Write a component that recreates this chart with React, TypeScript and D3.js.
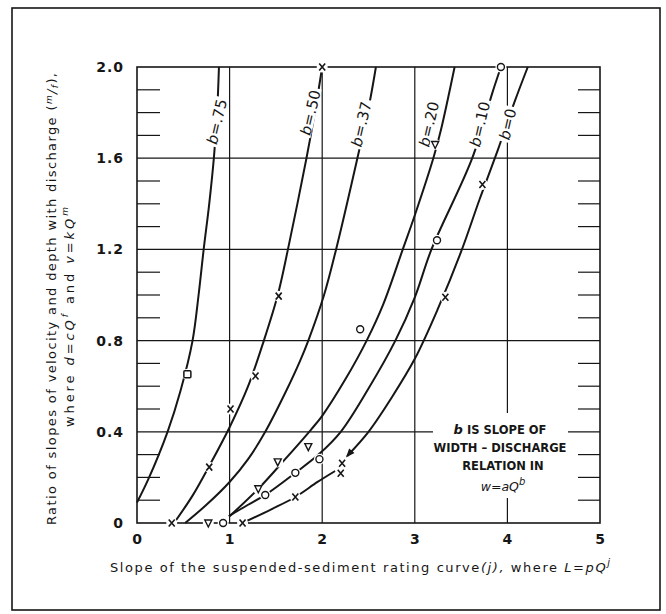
import React, { useEffect, useRef } from 'react';
import * as d3 from 'd3';

// axis ticks
const X_TICKS = [0, 1, 2, 3, 4, 5];
const Y_TICKS = [0, 0.4, 0.8, 1.2, 1.6, 2.0];
const Y_TICK_LABELS = ['0', '0.4', '0.8', '1.2', '1.6', '2.0'];

// curves: [j, m/f]
const curveB75 = [[0, 0.09], [0.12, 0.19], [0.33, 0.4], [0.47, 0.58], [0.6, 0.8], [0.665, 1.0], [0.72, 1.2], [0.78, 1.4], [0.83, 1.6], [0.865, 1.8], [0.885, 2.0]];
const curveB50 = [[0.4, 0], [0.6, 0.12], [0.78, 0.25], [1.0, 0.42], [1.2, 0.6], [1.37, 0.8], [1.52, 1.0], [1.63, 1.2], [1.83, 1.6], [1.92, 1.8], [2.0, 2.0]];
const curveB37 = [[0.52, 0], [0.75, 0.08], [1.0, 0.18], [1.2, 0.28], [1.385, 0.4], [1.6, 0.57], [1.76, 0.71], [1.85, 0.8], [2.02, 1.0], [2.15, 1.2], [2.38, 1.6], [2.51, 1.84], [2.58, 2.0]];
const curveB20 = [[1.0, 0.03], [1.31, 0.15], [1.6, 0.28], [1.88, 0.41], [2.0, 0.47], [2.25, 0.63], [2.48, 0.8], [2.66, 0.96], [2.87, 1.2], [3.0, 1.35], [3.2, 1.6], [3.28, 1.72], [3.43, 2.0]];
const curveB10 = [[0.99, 0.03], [1.2, 0.08], [1.385, 0.123], [1.71, 0.22], [1.96, 0.3], [2.2, 0.4], [2.5, 0.59], [2.79, 0.8], [3.0, 0.99], [3.18, 1.2], [3.62, 1.6], [3.84, 1.89], [3.93, 2.0]];
const curveB0Low = [[1.14, 0], [1.45, 0.06], [1.71, 0.114], [1.95, 0.18], [2.14, 0.228]];
const curveB0High = [[2.27, 0.294], [2.5, 0.4], [2.75, 0.55], [3.0, 0.72], [3.25, 0.94], [3.5, 1.19], [3.7, 1.42], [3.9, 1.64], [4.08, 1.85], [4.22, 2.0]];

const curveLabels = ['.75', '.50', '.37', '.20', '.10', '0'];
const curveLabelAt = [[0.86, 1.76], [1.87, 1.80], [2.42, 1.75], [3.15, 1.75], [3.70, 1.75], [4.0, 1.75]];

// observed points
const crossPts = [[0.375, 0], [0.78, 0.245], [1.01, 0.5], [1.28, 0.645], [1.53, 0.995], [2.0, 2.0], [1.14, 0], [1.71, 0.114], [2.215, 0.262], [2.2, 0.218], [3.33, 0.99], [3.73, 1.485]];
const circlePts = [[0.93, 0], [1.385, 0.123], [1.71, 0.22], [1.97, 0.28], [2.41, 0.85], [3.24, 1.24], [3.93, 2.0]];
const trianglePts = [[0.77, 0], [1.31, 0.15], [1.52, 0.268], [1.85, 0.335], [3.22, 1.66]];
const squarePts = [[0.544, 0.652]];

const INK = '#161616';
const FONT = '"DejaVu Sans", sans-serif';

function SedimentChart() {
    const svgRef = useRef(null);

    useEffect(() => {
        const svg = d3.select(svgRef.current);
        svg.selectAll('*').remove();

        const x = d3.scaleLinear().domain([0, 5]).range([137, 600]);
        const y = d3.scaleLinear().domain([0, 2]).range([523, 67]);

        // page frame
        svg.append('rect')
            .attr('x', 12).attr('y', 8).attr('width', 648).attr('height', 602)
            .attr('fill', 'none').attr('stroke', INK).attr('stroke-width', 1.6);

        // grid
        const grid = svg.append('g').attr('stroke', INK).attr('stroke-width', 1.2);
        X_TICKS.slice(1, -1).forEach((v) => {
            grid.append('line')
                .attr('x1', x(v)).attr('x2', x(v)).attr('y1', y(0)).attr('y2', y(2));
        });
        Y_TICKS.slice(1, -1).forEach((v) => {
            grid.append('line')
                .attr('x1', x(0)).attr('x2', x(5)).attr('y1', y(v)).attr('y2', y(v));
        });

        // minor ticks on both sides
        const minor = d3.range(1, 20).filter((i) => i % 4 !== 0).map((i) => i / 10);
        minor.forEach((v) => {
            grid.append('line')
                .attr('x1', x(0)).attr('x2', x(0) + 23).attr('y1', y(v)).attr('y2', y(v));
            grid.append('line')
                .attr('x1', x(5) - 22).attr('x2', x(5)).attr('y1', y(v)).attr('y2', y(v));
        });

        // plot border
        svg.append('rect')
            .attr('x', x(0)).attr('y', y(2))
            .attr('width', x(5) - x(0)).attr('height', y(0) - y(2))
            .attr('fill', 'none').attr('stroke', INK).attr('stroke-width', 1.6);

        // legend box (white knockout)
        svg.append('rect')
            .attr('x', 433).attr('y', 413).attr('width', 135).attr('height', 85)
            .attr('fill', 'white');
        const legend = svg.append('text')
            .attr('font-family', FONT).attr('font-weight', 'bold')
            .attr('font-size', 11.5).attr('fill', INK).attr('text-anchor', 'middle');
        const l1 = legend.append('tspan').attr('x', 500).attr('y', 434);
        l1.append('tspan').attr('font-style', 'italic').attr('font-size', 13).text('b');
        l1.append('tspan').text(' IS SLOPE OF');
        legend.append('tspan').attr('x', 500).attr('y', 452).text('WIDTH – DISCHARGE');
        legend.append('tspan').attr('x', 503).attr('y', 470).text('RELATION  IN');
        const l4 = legend.append('tspan').attr('x', 503).attr('y', 491)
            .attr('font-style', 'italic').attr('font-weight', 'normal').attr('font-size', 12.5);
        l4.append('tspan').text('w=aQ');
        l4.append('tspan').attr('dy', -6).attr('font-size', 10).text('b');

        // curves
        const line = d3.line()
            .x((d) => x(d[0]))
            .y((d) => y(d[1]))
            .curve(d3.curveCatmullRom.alpha(0.5));

        const curves = [curveB75, curveB50, curveB37, curveB20, curveB10, curveB0Low, curveB0High];
        svg.append('g')
            .selectAll('path')
            .data(curves)
            .join('path')
            .attr('d', line)
            .attr('fill', 'none')
            .attr('stroke', INK)
            .attr('stroke-width', 2);

        // arrow head at the lower end of the upper b=0 branch
        const p0 = [x(curveB0High[0][0]), y(curveB0High[0][1])];
        const p1 = [x(curveB0High[1][0]), y(curveB0High[1][1])];
        const len = Math.hypot(p0[0] - p1[0], p0[1] - p1[1]);
        const u = [(p0[0] - p1[0]) / len, (p0[1] - p1[1]) / len];
        const n = [-u[1], u[0]];
        const tip = [p0[0] + u[0] * 2, p0[1] + u[1] * 2];
        const base = [p0[0] - u[0] * 7, p0[1] - u[1] * 7];
        svg.append('path')
            .attr('d', `M${tip[0]},${tip[1]}L${base[0] + n[0] * 3.5},${base[1] + n[1] * 3.5}L${base[0] - n[0] * 3.5},${base[1] - n[1] * 3.5}Z`)
            .attr('fill', INK);

        // curve labels with knockout
        curveLabels.forEach((lab, i) => {
            const [lx, ly] = curveLabelAt[i];
            const g = svg.append('g')
                .attr('transform', `translate(${x(lx)},${y(ly)}) rotate(-77)`);
            const w = lab.length > 1 ? 50 : 36;
            g.append('rect')
                .attr('x', -w / 2).attr('y', -7).attr('width', w).attr('height', 13)
                .attr('fill', 'white');
            const t = g.append('text')
                .attr('text-anchor', 'middle').attr('y', 5.5)
                .attr('font-family', FONT).attr('font-size', 15).attr('fill', INK);
            t.append('tspan').attr('font-style', 'italic').text('b');
            t.append('tspan').text('=' + lab);
        });

        // markers with white halos
        const markers = svg.append('g').attr('stroke', INK).attr('fill', 'white');
        const allPts = [...crossPts, ...circlePts, ...trianglePts, ...squarePts];
        markers.selectAll('circle.halo')
            .data(allPts)
            .join('circle')
            .attr('class', 'halo')
            .attr('cx', (d) => x(d[0])).attr('cy', (d) => y(d[1]))
            .attr('r', 5.5).attr('stroke', 'none').attr('fill', 'white');

        crossPts.forEach((d) => {
            const cx = x(d[0]);
            const cy = y(d[1]);
            markers.append('path')
                .attr('d', `M${cx - 3},${cy - 3.5}L${cx + 3},${cy + 3.5}M${cx + 3},${cy - 3.5}L${cx - 3},${cy + 3.5}`)
                .attr('stroke-width', 1.6).attr('fill', 'none');
        });
        markers.selectAll('circle.pt')
            .data(circlePts)
            .join('circle')
            .attr('class', 'pt')
            .attr('cx', (d) => x(d[0])).attr('cy', (d) => y(d[1]))
            .attr('r', 3.5).attr('stroke-width', 1.4);
        trianglePts.forEach((d) => {
            const cx = x(d[0]);
            const cy = y(d[1]);
            markers.append('path')
                .attr('d', `M${cx - 3.5},${cy - 3}L${cx + 3.5},${cy - 3}L${cx},${cy + 4}Z`)
                .attr('stroke-width', 1.4);
        });
        squarePts.forEach((d) => {
            markers.append('rect')
                .attr('x', x(d[0]) - 3.5).attr('y', y(d[1]) - 3.5)
                .attr('width', 7).attr('height', 7).attr('rx', 1)
                .attr('stroke-width', 1.5);
        });

        // tick labels
        svg.append('g')
            .selectAll('text')
            .data(X_TICKS)
            .join('text')
            .attr('x', (d) => x(d)).attr('y', 544)
            .attr('text-anchor', 'middle')
            .attr('font-family', FONT).attr('font-size', 14).attr('font-weight', 'bold')
            .attr('fill', INK)
            .text((d) => String(d));

        svg.append('g')
            .selectAll('text')
            .data(Y_TICKS)
            .join('text')
            .attr('x', 124).attr('y', (d) => y(d) + 5)
            .attr('text-anchor', 'end')
            .attr('font-family', FONT).attr('font-size', 14).attr('font-weight', 'bold')
            .attr('letter-spacing', 1)
            .attr('fill', INK)
            .text((d, i) => Y_TICK_LABELS[i]);

        // axis titles
        const xt = svg.append('text')
            .attr('x', 110).attr('y', 572)
            .attr('textLength', 500).attr('lengthAdjust', 'spacing')
            .attr('font-family', FONT).attr('font-size', 13).attr('fill', INK);
        xt.append('tspan').text('Slope of the suspended-sediment rating curve');
        xt.append('tspan').attr('font-style', 'italic').text('(j),');
        xt.append('tspan').text(' where ');
        xt.append('tspan').attr('font-style', 'italic').text('L=pQ');
        xt.append('tspan').attr('dy', -6).attr('font-size', 10).attr('font-style', 'italic').text('j');

        const yt1 = svg.append('text')
            .attr('transform', 'translate(56,525) rotate(-90)')
            .attr('textLength', 452).attr('lengthAdjust', 'spacing')
            .attr('font-family', FONT).attr('font-size', 13).attr('fill', INK);
        yt1.append('tspan').text('Ratio of slopes of velocity and depth with discharge (');
        yt1.append('tspan').attr('dy', -4).attr('font-size', 9).attr('font-style', 'italic').text('m');
        yt1.append('tspan').attr('dy', 4).attr('font-style', 'italic').text('/');
        yt1.append('tspan').attr('dy', 2).attr('font-size', 9).attr('font-style', 'italic').text('f');
        yt1.append('tspan').attr('dy', -2).text('),');

        const yt2 = svg.append('text')
            .attr('transform', 'translate(74,427) rotate(-90)')
            .attr('textLength', 220).attr('lengthAdjust', 'spacing')
            .attr('font-family', FONT).attr('font-size', 13).attr('fill', INK);
        yt2.append('tspan').text('where ');
        yt2.append('tspan').attr('font-style', 'italic').text('d=cQ');
        yt2.append('tspan').attr('dy', -6).attr('font-size', 9).attr('font-style', 'italic').text('f');
        yt2.append('tspan').attr('dy', 6).text('  and  ');
        yt2.append('tspan').attr('font-style', 'italic').text('v=kQ');
        yt2.append('tspan').attr('dy', -6).attr('font-size', 9).attr('font-style', 'italic').text('m');
    }, []);

    return (
        <svg
            ref={svgRef}
            width={666}
            height={614}
            style={{ position: 'absolute', left: 0, top: 0, background: 'white' }}
        />
    );
}

export default function App() {
    return <SedimentChart />;
}
